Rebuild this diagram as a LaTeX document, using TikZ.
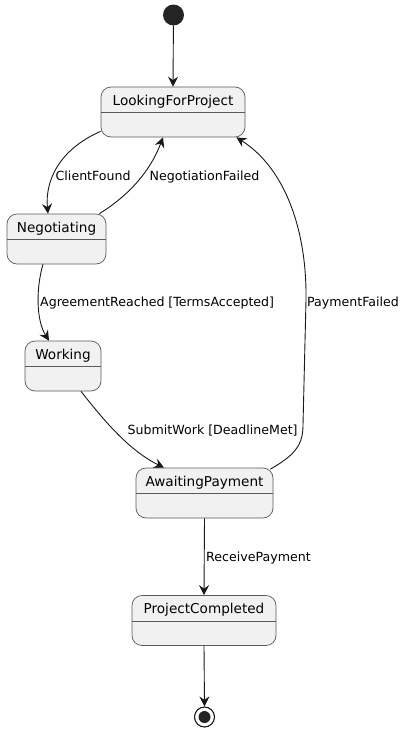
\documentclass[tikz,border=0pt]{standalone}
\usepackage{fontspec}
\setmainfont{DejaVu Sans}
\usetikzlibrary{arrows.meta}
\definecolor{sfill}{HTML}{F1F1F1}
\definecolor{sline}{HTML}{181818}
\definecolor{sbord}{HTML}{5A5A5A}
\begin{document}
\begin{tikzpicture}[x=1pt,y=-1pt,
  statebox/.style={draw=sbord,fill=sfill,rounded corners=10pt,line width=0.7pt,minimum height=50pt,inner sep=0pt},
  divider/.style={draw=sbord,line width=0.7pt},
  sname/.style={anchor=base,inner sep=0pt,font=\fontsize{13.6}{16}\selectfont,text=black},
  elabel/.style={anchor=base west,inner sep=0pt,font=\fontsize{12.6}{14}\selectfont,text=black},
  arr/.style={draw=sline,line width=0.9pt,-{Stealth[length=10pt,width=10pt,inset=3.5pt]}}
]
\useasboundingbox (0,0) rectangle (407,731);
% initial and final
\node[circle,fill=sline!95!white,minimum size=21pt,inner sep=0pt] (init) at (173.5,15) {};
\node[circle,draw=sline,line width=1.1pt,fill=white,minimum size=20pt,inner sep=0pt] (final) at (204.5,717) {};
\node[circle,fill=sline!95!white,minimum size=12pt,inner sep=0pt] (finaldot) at (final.center) {};
% states
\node[statebox,minimum width=144pt] (lfp) at (173,112) {};
\node[statebox,minimum width=99pt] (neg) at (56.5,239) {};
\node[statebox,minimum width=76pt] (work) at (63,366) {};
\node[statebox,minimum width=137pt] (awp) at (204.5,493) {};
\node[statebox,minimum width=144pt] (pc) at (204,620.5) {};
\foreach \s in {lfp,neg,work,awp,pc}{
  \draw[divider] ([yshift=-26pt]\s.north west) -- ([yshift=-26pt]\s.north east);
}
\node[sname] (lfpn) at ([yshift=-18.5pt]lfp.north) {LookingForProject};
\node[sname] (negn) at ([yshift=-18.5pt]neg.north) {Negotiating};
\node[sname] (workn) at ([yshift=-18.5pt]work.north) {Working};
\node[sname] (awpn) at ([yshift=-18.5pt]awp.north) {AwaitingPayment};
\node[sname] (pcn) at ([yshift=-18.5pt]pc.north) {ProjectCompleted};
% edges
\draw[arr] (init) -- (lfp.north);
\draw[arr] ([yshift=6pt]lfp.south west) .. controls (58,150) and (45,182) .. ([xshift=-8.5pt]neg.north);
\node[elabel] (l1) at (55.5,180) {ClientFound};
\draw[arr] ([xshift=-7pt]neg.north east) .. controls (128,196) and (150,172) .. ([xshift=-10pt]lfp.south);
\node[elabel] (l2) at (149.5,180) {NegotiationFailed};
\draw[arr] ([xshift=-13.5pt]neg.south) .. controls (36,288) and (36,320) .. ([xshift=-14pt]work.north);
\node[elabel] (l3) at (40,306.5) {AgreementReached [TermsAccepted]};
\draw[arr] ([xshift=18pt]work.south) .. controls (102,418) and (128,450) .. ([xshift=-40.5pt]awp.north);
\node[elabel] (l4) at (127.5,434) {SubmitWork [DeadlineMet]};
\coordinate (pf1) at (303,425);
\coordinate (pf2) at (306,300);
\draw[arr] ([xshift=-3pt,yshift=-1.5pt]awp.north east) .. controls (295,455) and (303,445) .. (pf1) -- (pf2) .. controls (307,230) and (285,168) .. ([xshift=-9pt]lfp.south east);
\node[elabel] (l5) at (307,306.5) {PaymentFailed};
\draw[arr] (awp.south) -- (pc.north);
\node[elabel] (l6) at (206,561) {ReceivePayment};
\draw[arr] (pc.south) -- (final.north);
\end{tikzpicture}
\end{document}
